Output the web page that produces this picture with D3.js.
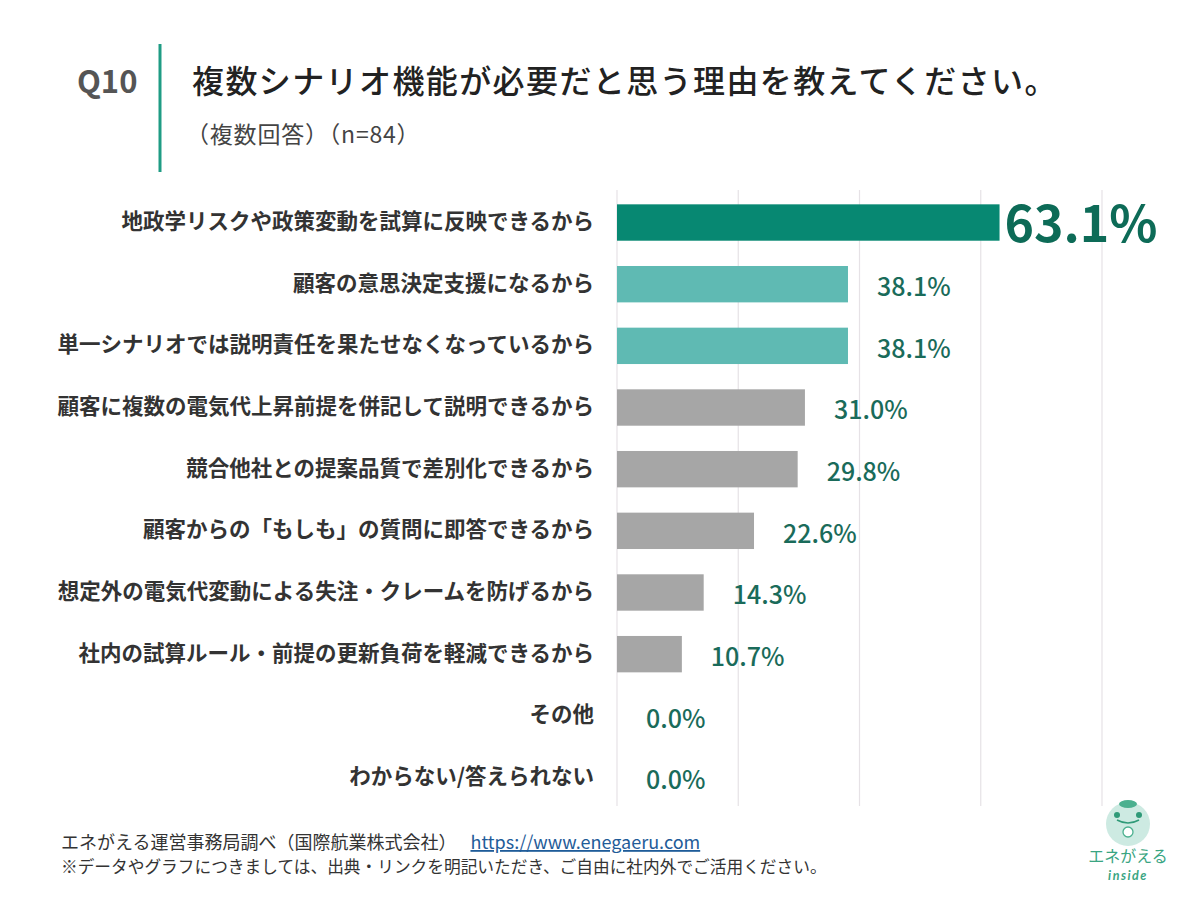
<!DOCTYPE html>
<html lang="ja">
<head>
<meta charset="utf-8">
<script src="https://cdn.jsdelivr.net/npm/d3@7"></script>
<style>
  html, body { margin: 0; padding: 0; background: #fff; }
  svg { display: block; font-family: "Noto Sans CJK JP", "Noto Sans", sans-serif; }
</style>
</head>
<body>
<svg id="chart"></svg>
<script>
// Chart data
const categories = [
    '地政学リスクや政策変動を試算に反映できるから',
    '顧客の意思決定支援になるから',
    '単一シナリオでは説明責任を果たせなくなっているから',
    '顧客に複数の電気代上昇前提を併記して説明できるから',
    '競合他社との提案品質で差別化できるから',
    '顧客からの「もしも」の質問に即答できるから',
    '想定外の電気代変動による失注・クレームを防げるから',
    '社内の試算ルール・前提の更新負荷を軽減できるから',
    'その他',
    'わからない/答えられない'
];
const values = [63.1, 38.1, 38.1, 31.0, 29.8, 22.6, 14.3, 10.7, 0.0, 0.0];
const gridTicks = [0, 20, 40, 60, 80];

const width = 1200;
const height = 900;

const svg = d3.select('#chart')
    .attr('width', width)
    .attr('height', height);

// Header
svg.append('text')
    .attr('x', 77).attr('y', 93)
    .style('font-size', '31px').style('font-weight', 'bold')
    .style('fill', '#555')
    .text('Q10');

svg.append('line')
    .attr('x1', 160).attr('x2', 160)
    .attr('y1', 44).attr('y2', 172)
    .style('stroke', '#1f9c84').style('stroke-width', 3);

svg.append('text')
    .attr('x', 192).attr('y', 93)
    .style('font-size', '32px').style('font-weight', 500)
    .style('letter-spacing', '1.4px')
    .style('fill', '#222')
    .text('複数シナリオ機能が必要だと思う理由を教えてください。');

svg.append('text')
    .attr('x', 186).attr('y', 143)
    .style('font-size', '23px')
    .style('letter-spacing', '0.8px')
    .style('fill', '#444')
    .text('（複数回答）（n=84）');

// Scales
const x = d3.scaleLinear()
    .domain([0, 80])
    .range([617, 1102]);

const y = d3.scaleBand()
    .domain(categories)
    .range([192, 808])
    .paddingInner(0.41)
    .paddingOuter(0.2);

// Grid lines
svg.append('g')
    .attr('class', 'grid')
    .selectAll('line')
    .data(gridTicks)
    .enter()
    .append('line')
    .attr('x1', d => x(d))
    .attr('x2', d => x(d))
    .attr('y1', 190)
    .attr('y2', 806)
    .style('stroke', '#e6e2e6')
    .style('stroke-width', 1.2);

// Bar colour by rank
function barColor(i) {
    if (i === 0) return '#078872';
    if (i <= 2) return '#5fbab3';
    return '#a6a6a6';
}

svg.append('g')
    .selectAll('rect')
    .data(values)
    .enter()
    .append('rect')
    .attr('x', x(0))
    .attr('y', (d, i) => y(categories[i]))
    .attr('width', d => x(d) - x(0))
    .attr('height', y.bandwidth())
    .style('fill', (d, i) => barColor(i));

// Category labels
svg.append('g')
    .selectAll('text')
    .data(categories)
    .enter()
    .append('text')
    .attr('x', 594)
    .attr('y', d => y(d) + y.bandwidth() / 2 - 1)
    .attr('dy', '0.35em')
    .attr('text-anchor', 'end')
    .style('font-size', '21.5px')
    .style('font-weight', 'bold')
    .style('fill', '#333')
    .text(d => d);

// Value labels
svg.append('g')
    .selectAll('text')
    .data(values)
    .enter()
    .append('text')
    .attr('x', (d, i) => i === 0 ? x(d) + 5 : x(d) + 29)
    .attr('y', (d, i) => y(categories[i]) + y.bandwidth() / 2 + (i === 0 ? 2 : 3))
    .attr('dy', '0.35em')
    .style('font-size', (d, i) => i === 0 ? '50px' : '25px')
    .style('font-weight', (d, i) => i === 0 ? 'bold' : 500)
    .style('fill', (d, i) => i === 0 ? '#0d6b57' : '#1a6b5a')
    .text(d => d.toFixed(1) + '%');

// Footer
const foot = svg.append('text')
    .attr('x', 61).attr('y', 849)
    .style('font-size', '18px')
    .style('fill', '#333');
foot.append('tspan').text('エネがえる運営事務局調べ（国際航業株式会社）');
foot.append('tspan')
    .attr('dx', 14)
    .style('fill', '#1f5c99')
    .style('text-decoration', 'underline')
    .text('https://www.enegaeru.com');

svg.append('text')
    .attr('x', 61).attr('y', 873)
    .style('font-size', '16.7px')
    .style('fill', '#333')
    .text('※データやグラフにつきましては、出典・リンクを明記いただき、ご自由に社内外でご活用ください。');

// Logo
const logo = svg.append('g').attr('transform', 'translate(1128, 824)');
logo.append('circle').attr('r', 22).style('fill', '#cdeae2');
logo.append('ellipse').attr('cx', 0).attr('cy', -20).attr('rx', 9).attr('ry', 4).style('fill', '#4bb08f');
logo.append('circle').attr('cx', -11).attr('cy', -9).attr('r', 3).style('fill', '#2f9a78');
logo.append('circle').attr('cx', 11).attr('cy', -9).attr('r', 3).style('fill', '#2f9a78');
logo.append('path').attr('d', 'M-11,-4 Q0,2 11,-4').style('fill', 'none').style('stroke', '#2f9a78').style('stroke-width', 1.5);
logo.append('circle').attr('cx', 0).attr('cy', 8).attr('r', 5).style('fill', '#fff').style('stroke', '#4bb08f').style('stroke-width', 1.3);
logo.append('text')
    .attr('x', 0).attr('y', 38)
    .attr('text-anchor', 'middle')
    .style('font-size', '16px')
    .style('fill', '#3aa582')
    .text('エネがえる');
logo.append('text')
    .attr('x', 0).attr('y', 56)
    .attr('text-anchor', 'middle')
    .style('font-family', 'Lato, sans-serif')
    .style('font-size', '12.5px')
    .style('font-style', 'italic')
    .style('font-weight', 'bold')
    .style('letter-spacing', '1.5px')
    .style('fill', '#3aa582')
    .text('inside');
</script>
</body>
</html>
